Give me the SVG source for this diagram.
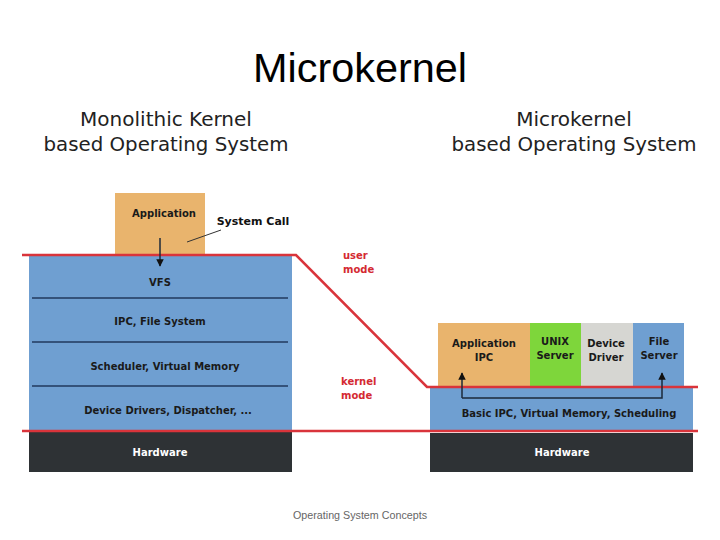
<svg xmlns="http://www.w3.org/2000/svg" width="720" height="540" viewBox="0 0 720 540">
<defs>
<style>
.title{font-family:"Liberation Sans",Arial,sans-serif;font-size:40px;fill:#000}
.sub{font-family:"DejaVu Sans",sans-serif;font-size:20px;fill:#222}
.lbl{font-family:"DejaVu Sans",sans-serif;font-size:10px;font-weight:bold;fill:#1a1a1a;text-anchor:middle}
.lblw{font-family:"DejaVu Sans",sans-serif;font-size:10px;font-weight:bold;fill:#fff;text-anchor:middle}
.mode{font-family:"DejaVu Sans",sans-serif;font-size:10px;font-weight:bold;fill:#d42a32}
.foot{font-family:"Liberation Sans",Arial,sans-serif;font-size:11px;fill:#666;text-anchor:middle}
.blue{fill:#6f9fd1}
.hw{fill:#2e3235}
.app{fill:#e9b46d}
.div{stroke:#34527a;stroke-width:2}
.red{stroke:#d9343b;stroke-width:2.5;fill:none}
.conn{stroke:#1d2a3a;stroke-width:1.5;fill:none}
</style>
<marker id="ah" viewBox="0 0 10 10" refX="9" refY="5" markerWidth="5" markerHeight="6" orient="auto">
<path d="M0,0 L10,5 L0,10 z" fill="#111"/>
</marker>
</defs>
<rect width="720" height="540" fill="#fff"/>
<text class="title" x="360" y="82" text-anchor="middle" textLength="214" lengthAdjust="spacingAndGlyphs">Microkernel</text>
<text class="sub" x="166" y="126" text-anchor="middle">Monolithic Kernel</text>
<text class="sub" x="166" y="151" text-anchor="middle" textLength="245" lengthAdjust="spacingAndGlyphs">based Operating System</text>
<text class="sub" x="574" y="126" text-anchor="middle">Microkernel</text>
<text class="sub" x="574" y="151" text-anchor="middle" textLength="245" lengthAdjust="spacingAndGlyphs">based Operating System</text>

<g id="mono-application"><rect class="app" x="115" y="193" width="90" height="62"/><text class="lbl" x="164" y="217">Application</text></g>
<g id="mono-kernel">
<rect class="blue" x="29" y="256" width="263" height="175"/>
<line class="div" x1="32" y1="298" x2="288" y2="298"/>
<line class="div" x1="32" y1="342" x2="288" y2="342"/>
<line class="div" x1="32" y1="386" x2="288" y2="386"/>
<text class="lbl" x="160" y="286">VFS</text>
<text class="lbl" x="160" y="325">IPC, File System</text>
<text class="lbl" x="165" y="370">Scheduler, Virtual Memory</text>
<text class="lbl" x="168" y="414">Device Drivers, Dispatcher, ...</text>
</g>
<g id="mono-hardware"><rect class="hw" x="29" y="432" width="263" height="40"/><text class="lblw" x="160" y="456">Hardware</text></g>

<g id="micro-application"><rect class="app" x="438" y="323" width="92" height="64"/><text class="lbl" x="484" y="347">Application</text><text class="lbl" x="484" y="361">IPC</text></g>
<g id="micro-unix"><rect x="530" y="323" width="51" height="64" fill="#7ed63b"/><text class="lbl" x="555" y="345">UNIX</text><text class="lbl" x="555" y="359">Server</text></g>
<g id="micro-device"><rect x="581" y="323" width="52" height="64" fill="#d6d6d2"/><text class="lbl" x="606" y="347">Device</text><text class="lbl" x="606" y="361">Driver</text></g>
<g id="micro-file"><rect class="blue" x="633" y="323" width="51" height="64"/><text class="lbl" x="659" y="345">File</text><text class="lbl" x="659" y="359">Server</text></g>
<g id="micro-kernel"><rect class="blue" x="430" y="388" width="263" height="42"/><text class="lbl" x="569" y="417">Basic IPC, Virtual Memory, Scheduling</text></g>
<g id="micro-hardware"><rect class="hw" x="430" y="433" width="263" height="39"/><text class="lblw" x="562" y="456">Hardware</text></g>

<g id="mode-boundary">
<polyline class="red" points="22,255 296,255 427,387 698,387"/>
<line class="red" x1="22" y1="431" x2="698" y2="431"/>
<text class="mode" x="343" y="259">user</text>
<text class="mode" x="343" y="273">mode</text>
<text class="mode" x="341" y="385">kernel</text>
<text class="mode" x="341" y="399">mode</text>
</g>

<g id="connectors">
<line class="conn" x1="160" y1="238" x2="160" y2="266" marker-end="url(#ah)"/>
<line x1="187" y1="242" x2="221" y2="230" stroke="#333" stroke-width="1"/>
<polyline class="conn" points="462,398 662,398 662,373" marker-end="url(#ah)"/>
<line class="conn" x1="462" y1="398" x2="462" y2="373" marker-end="url(#ah)"/>
</g>
<text class="lbl" x="253" y="225" style="font-size:11px;fill:#111">System Call</text>
<text class="foot" x="360" y="519" textLength="134" lengthAdjust="spacingAndGlyphs">Operating System Concepts</text>
</svg>
